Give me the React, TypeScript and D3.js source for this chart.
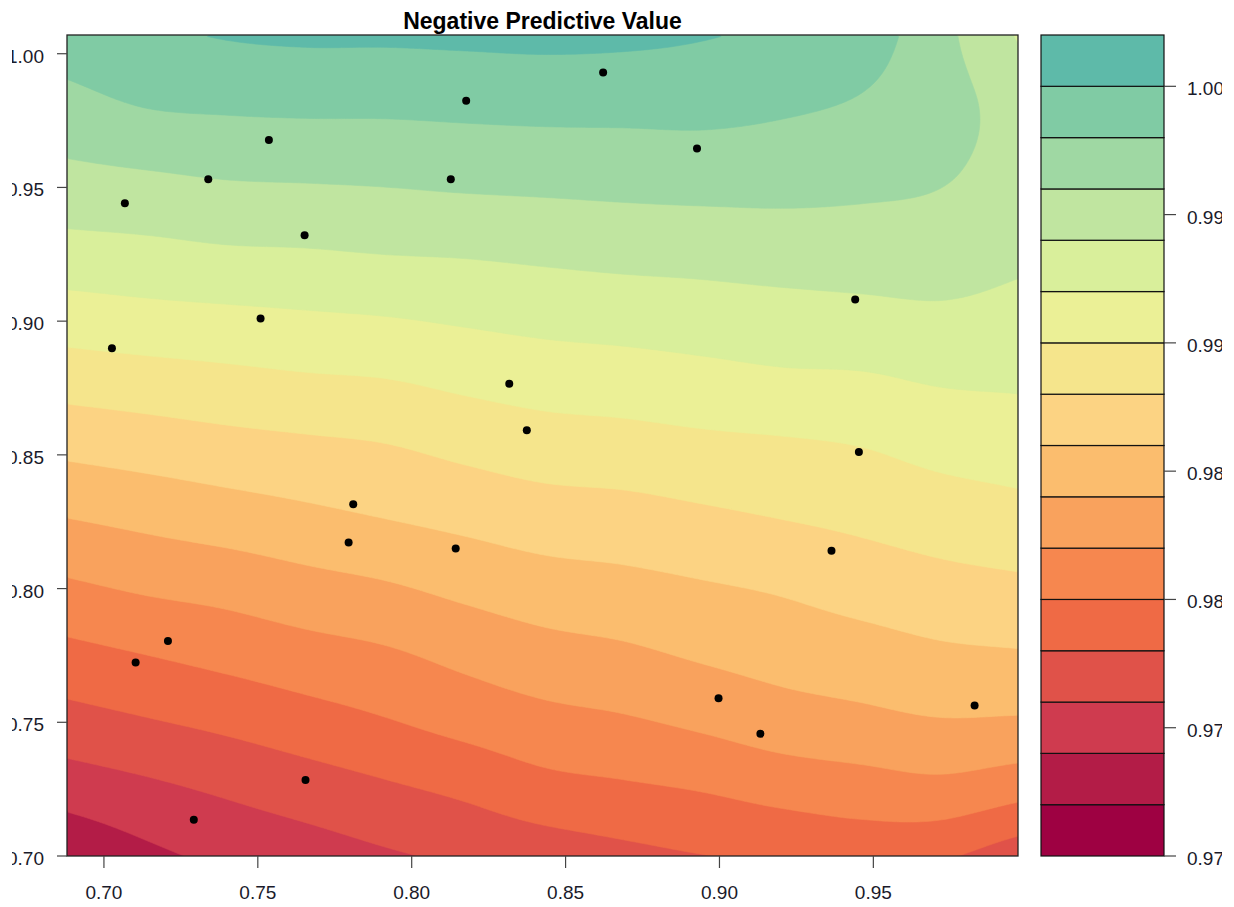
import React, { useEffect, useRef } from 'react';
import * as d3 from 'd3';

// chart text + ticks
const title = 'Negative Predictive Value';
const xTicks = [0.7, 0.75, 0.8, 0.85, 0.9, 0.95];
const yTicks = [0.7, 0.75, 0.8, 0.85, 0.9, 0.95, 1.0];
const legendTicks = [0.97, 0.975, 0.98, 0.985, 0.99, 0.995, 1.0];

// contour levels (band edges) and band colours, bottom to top
const levels = [0.97, 0.972, 0.974, 0.976, 0.978, 0.98, 0.982, 0.984, 0.986, 0.988, 0.99, 0.992, 0.994, 0.996, 0.998, 1.0, 1.002];
const bandColors = [
  '#9e0142', '#b31c47', '#cf3b4f', '#e05249', '#ef6a45', '#f6874f', '#f9a25d', '#fbbd6e',
  '#fcd383', '#f5e58c', '#ebf096', '#d9ef9b', '#c0e5a0', '#9fd8a3', '#80cba4', '#5ebaa9',
];

// surface grid: columns = gridX, rows = gridY (top row first)
const gridX = [0.688, 0.714, 0.74, 0.766, 0.791, 0.817, 0.843, 0.869, 0.894, 0.92, 0.946, 0.972, 0.997];
const gridY = [1.007, 0.982, 0.956, 0.931, 0.905, 0.879, 0.854, 0.828, 0.803, 0.777, 0.751, 0.725, 0.7];
const zRows = [
  [0.9990, 0.9996, 1.0001, 1.0003, 1.0003, 1.0004, 1.0005, 1.0004, 1.0001, 0.9996, 0.9990, 0.9966, 0.9938],
  [0.9974, 0.9981, 0.9983, 0.9984, 0.9984, 0.9985, 0.9986, 0.9986, 0.9986, 0.9983, 0.9978, 0.9967, 0.9952],
  [0.9956, 0.9959, 0.9962, 0.9963, 0.9964, 0.9966, 0.9967, 0.9968, 0.9969, 0.9968, 0.9966, 0.9962, 0.9952],
  [0.9936, 0.9938, 0.9941, 0.9942, 0.9944, 0.9945, 0.9947, 0.9949, 0.9950, 0.9952, 0.9952, 0.9951, 0.9945],
  [0.9913, 0.9916, 0.9918, 0.9920, 0.9922, 0.9925, 0.9928, 0.9930, 0.9932, 0.9934, 0.9936, 0.9938, 0.9935],
  [0.9889, 0.9892, 0.9895, 0.9898, 0.9900, 0.9905, 0.9909, 0.9911, 0.9914, 0.9917, 0.9918, 0.9922, 0.9923],
  [0.9865, 0.9869, 0.9873, 0.9876, 0.9879, 0.9885, 0.9890, 0.9892, 0.9895, 0.9897, 0.9900, 0.9906, 0.9909],
  [0.9841, 0.9846, 0.9851, 0.9856, 0.9861, 0.9866, 0.9871, 0.9873, 0.9877, 0.9881, 0.9885, 0.9890, 0.9894],
  [0.9818, 0.9824, 0.9828, 0.9834, 0.9839, 0.9846, 0.9852, 0.9855, 0.9859, 0.9863, 0.9869, 0.9874, 0.9877],
  [0.9795, 0.9801, 0.9807, 0.9813, 0.9818, 0.9826, 0.9833, 0.9837, 0.9843, 0.9848, 0.9852, 0.9857, 0.9859],
  [0.9773, 0.9779, 0.9785, 0.9792, 0.9799, 0.9807, 0.9814, 0.9818, 0.9824, 0.9831, 0.9835, 0.9839, 0.9838],
  [0.9749, 0.9756, 0.9763, 0.9770, 0.9777, 0.9784, 0.9793, 0.9797, 0.9801, 0.9807, 0.9811, 0.9814, 0.9807],
  [0.9722, 0.9735, 0.9744, 0.9750, 0.9757, 0.9763, 0.9768, 0.9774, 0.9779, 0.9782, 0.9786, 0.9782, 0.9767],
];

// observed points
const pointX = [0.8177, 0.7536, 0.7339, 0.8127, 0.7068, 0.7652, 0.7509, 0.7026, 0.8317, 0.8374, 0.8622, 0.8927, 0.9441,
  0.781, 0.7795, 0.8143, 0.7208, 0.7103, 0.7655, 0.7292, 0.9453, 0.9364, 0.8997, 0.9133, 0.9829];
const pointY = [0.9824, 0.9677, 0.9531, 0.9531, 0.9441, 0.9321, 0.901, 0.8899, 0.8766, 0.8592, 0.993, 0.9646, 0.9081,
  0.8315, 0.8172, 0.815, 0.7804, 0.7724, 0.7284, 0.7136, 0.8511, 0.8141, 0.759, 0.7457, 0.7563];

const FONT = '"Liberation Sans", Arial, sans-serif';
const W = 1234, H = 907;
const plot = { left: 67, right: 1018, top: 35, bottom: 856 };
const legend = { left: 1041, right: 1164 };

// catmull-rom lookup on the read grid (for smooth contour bands)
function surfaceAt(gx: number, gy: number) {
  const nR = zRows.length, nC = zRows[0].length;
  const at = (r: number, c: number): number => {
    if (c < 0) return 2 * at(r, 0) - at(r, 1);
    if (c > nC - 1) return 2 * at(r, nC - 1) - at(r, nC - 2);
    if (r < 0) return 2 * at(0, c) - at(1, c);
    if (r > nR - 1) return 2 * at(nR - 1, c) - at(nR - 2, c);
    return zRows[r][c];
  };
  const cr = (p0: number, p1: number, p2: number, p3: number, t: number) =>
    p1 + 0.5 * t * (p2 - p0 + t * (2 * p0 - 5 * p1 + 4 * p2 - p3 + t * (3 * (p1 - p2) + p3 - p0)));
  const x0 = Math.min(Math.floor(gx), nC - 2), y0 = Math.min(Math.floor(gy), nR - 2);
  const tx = gx - x0, ty = gy - y0;
  const rows = [-1, 0, 1, 2].map((k) => cr(at(y0 + k, x0 - 1), at(y0 + k, x0), at(y0 + k, x0 + 1), at(y0 + k, x0 + 2), tx));
  return cr(rows[0], rows[1], rows[2], rows[3], ty);
}

function App() {
  const svgRef = useRef<SVGSVGElement>(null);

  useEffect(() => {
    const svg = d3.select(svgRef.current);
    svg.selectAll('*').remove();

    const xScale = d3.scaleLinear().domain([gridX[0], gridX[gridX.length - 1]]).range([plot.left, plot.right]);
    const yScale = d3.scaleLinear().domain([gridY[gridY.length - 1], gridY[0]]).range([plot.bottom, plot.top]);

    // fine sampling for the filled contours
    const nx = 318, ny = 275;
    const nC = gridX.length, nR = gridY.length;
    const values = new Array(nx * ny);
    for (let j = 0; j < ny; j++) {
      for (let i = 0; i < nx; i++) {
        values[j * nx + i] = surfaceAt((i / (nx - 1)) * (nC - 1), (j / (ny - 1)) * (nR - 1));
      }
    }
    const cx = d3.scaleLinear().domain([0, nx - 1]).range([xScale(gridX[0]), xScale(gridX[nC - 1])]);
    const cy = d3.scaleLinear().domain([0, ny - 1]).range([yScale(gridY[0]), yScale(gridY[nR - 1])]);
    const bands = d3.contours().size([nx, ny]).thresholds(levels.slice(0, -1))(values);
    const path = d3.geoPath(d3.geoTransform({
      point(x: number, y: number) { this.stream.point(cx(x), cy(y)); },
    }));

    const defs = svg.append('defs');
    defs.append('clipPath').attr('id', 'plot-clip')
      .append('rect')
      .attr('x', plot.left).attr('y', plot.top)
      .attr('width', plot.right - plot.left).attr('height', plot.bottom - plot.top);
    defs.append('clipPath').attr('id', 'legend-text-clip')
      .append('rect').attr('x', 1170).attr('y', 0).attr('width', 52).attr('height', H);
    defs.append('clipPath').attr('id', 'ylab-clip')
      .append('rect').attr('x', 12).attr('y', 0).attr('width', 50).attr('height', H);

    const g = svg.append('g').attr('clip-path', 'url(#plot-clip)');
    g.append('rect')
      .attr('x', plot.left).attr('y', plot.top)
      .attr('width', plot.right - plot.left).attr('height', plot.bottom - plot.top)
      .attr('fill', bandColors[0]);
    g.selectAll('path.band')
      .data(bands)
      .join('path')
      .attr('class', 'band')
      .attr('d', (d: any) => path(d))
      .attr('fill', (d: any, i: number) => bandColors[i])
      .attr('stroke', (d: any, i: number) => bandColors[i])
      .attr('stroke-width', 0.6);

    // points
    svg.selectAll('circle.pt')
      .data(pointX)
      .join('circle')
      .attr('class', 'pt')
      .attr('cx', (v: number) => xScale(v))
      .attr('cy', (v: number, i: number) => yScale(pointY[i]))
      .attr('r', 4)
      .attr('fill', '#000');

    // frame
    svg.append('rect')
      .attr('x', plot.left).attr('y', plot.top)
      .attr('width', plot.right - plot.left).attr('height', plot.bottom - plot.top)
      .attr('fill', 'none').attr('stroke', '#222').attr('stroke-width', 1.3);

    // x axis
    const xa = svg.append('g');
    xa.selectAll('line').data(xTicks).join('line')
      .attr('x1', (v: number) => xScale(v)).attr('x2', (v: number) => xScale(v))
      .attr('y1', plot.bottom).attr('y2', plot.bottom + 12)
      .attr('stroke', '#444').attr('stroke-width', 1.2);
    xa.selectAll('text').data(xTicks).join('text')
      .attr('x', (v: number) => xScale(v)).attr('y', 899)
      .attr('text-anchor', 'middle')
      .style('font', `19px ${FONT}`).attr('fill', '#1a1a2a')
      .text((v: number) => d3.format('.2f')(v));

    // y axis
    const ya = svg.append('g');
    ya.selectAll('line').data(yTicks).join('line')
      .attr('x1', plot.left - 10).attr('x2', plot.left)
      .attr('y1', (v: number) => yScale(v)).attr('y2', (v: number) => yScale(v))
      .attr('stroke', '#444').attr('stroke-width', 1.2);
    ya.append('g').attr('clip-path', 'url(#ylab-clip)')
      .selectAll('text').data(yTicks).join('text')
      .attr('x', 44).attr('y', (v: number) => yScale(v) + 9)
      .attr('text-anchor', 'end')
      .style('font', `19px ${FONT}`).attr('fill', '#1a1a2a')
      .text((v: number) => d3.format('.2f')(v));

    // title
    svg.append('text')
      .attr('x', (plot.left + plot.right) / 2).attr('y', 29)
      .attr('text-anchor', 'middle')
      .style('font', `bold 23px ${FONT}`).attr('fill', '#000')
      .text(title);

    // colour key
    const lScale = d3.scaleLinear().domain([levels[0], levels[levels.length - 1]]).range([plot.bottom, plot.top]);
    const lg = svg.append('g');
    lg.selectAll('rect').data(bandColors).join('rect')
      .attr('x', legend.left)
      .attr('y', (c: string, i: number) => lScale(levels[i + 1]))
      .attr('width', legend.right - legend.left)
      .attr('height', (c: string, i: number) => lScale(levels[i]) - lScale(levels[i + 1]))
      .attr('fill', (c: string) => c)
      .attr('stroke', '#111').attr('stroke-width', 1.2);
    lg.selectAll('line').data(legendTicks).join('line')
      .attr('x1', legend.right).attr('x2', legend.right + 12)
      .attr('y1', (v: number) => lScale(v)).attr('y2', (v: number) => lScale(v))
      .attr('stroke', '#444').attr('stroke-width', 1.2);
    lg.append('g').attr('clip-path', 'url(#legend-text-clip)')
      .selectAll('text').data(legendTicks).join('text')
      .attr('x', 1187).attr('y', (v: number) => lScale(v) + 9)
      .style('font', `19px ${FONT}`).attr('fill', '#1a1a2a')
      .text((v: number) => d3.format('.3f')(v));
  }, []);

  return (
    <svg
      ref={svgRef}
      width={W}
      height={H}
      style={{ position: 'absolute', left: 0, top: 0, background: '#fff' }}
    />
  );
}

export default App;
